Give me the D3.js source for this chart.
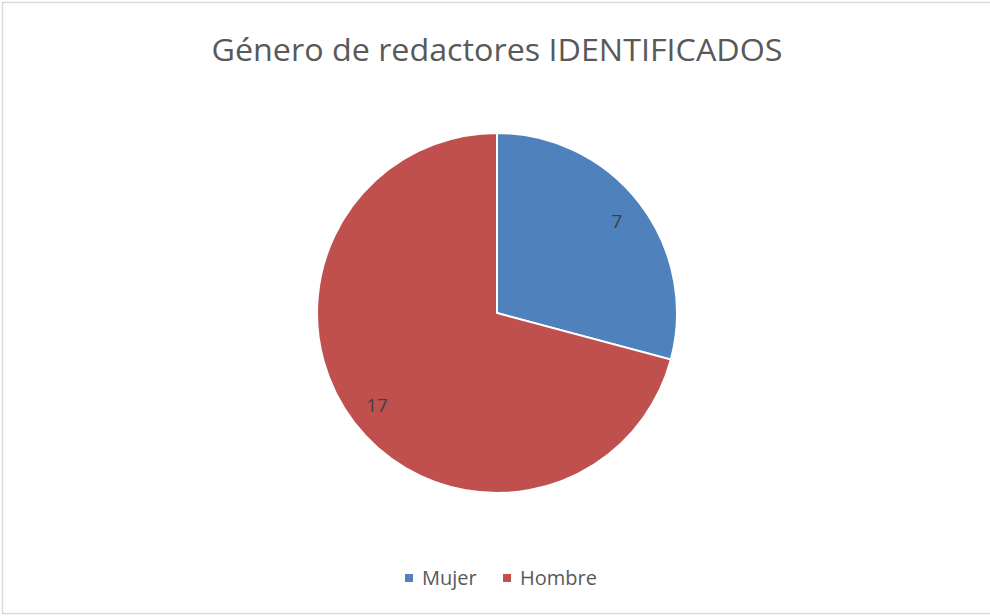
<!DOCTYPE html>
<html>
<head>
<meta charset="utf-8">
<script src="https://cdn.jsdelivr.net/npm/d3@7"></script>
<style>
  body { margin: 0; background: #fff; }
  svg { display: block; font-family: "Open Sans", "Noto Sans", sans-serif; }
</style>
</head>
<body>
<svg id="chart"></svg>
<script>
const categories = ['Mujer', 'Hombre'];
const values = [7, 17];
const colors = ['#4F81BD', '#C0504D'];
const title = 'Género de redactores IDENTIFICADOS';

const width = 990;
const height = 616;
const cx = 497, cy = 313;
const radius = 180;

const svg = d3.select('#chart')
    .attr('width', width)
    .attr('height', height);

// chart frame
svg.append('rect')
    .attr('x', 2.5)
    .attr('y', 2.5)
    .attr('width', width)
    .attr('height', 611)
    .attr('fill', 'white')
    .attr('stroke', '#d9d9d9')
    .attr('stroke-width', 1.5);

svg.append('text')
    .attr('x', cx)
    .attr('y', 61)
    .attr('text-anchor', 'middle')
    .attr('font-size', 31)
    .attr('textLength', 571)
    .attr('lengthAdjust', 'spacingAndGlyphs')
    .attr('fill', '#595959')
    .text(title);

const pie = d3.pie().sort(null).value(d => d[1]);
const arc = d3.arc().innerRadius(0).outerRadius(radius);
const labelArc = d3.arc().innerRadius(radius * 0.84).outerRadius(radius * 0.84);

const data = categories.map((c, i) => [c, values[i], colors[i]]);

const g = svg.append('g').attr('transform', `translate(${cx},${cy})`);

const slices = g.selectAll('.arc')
    .data(pie(data))
    .enter().append('g')
    .attr('class', 'arc');

slices.append('path')
    .attr('d', arc)
    .attr('fill', d => d.data[2])
    .attr('stroke', 'white')
    .attr('stroke-width', 2);

slices.append('text')
    .attr('transform', d => `translate(${labelArc.centroid(d)})`)
    .attr('text-anchor', 'middle')
    .attr('dy', '0.35em')
    .attr('font-size', 19)
    .attr('fill', '#404040')
    .text(d => d.data[1]);

// legend
const legendX = [405, 503];
const legend = svg.append('g');
categories.forEach((c, i) => {
    legend.append('rect')
        .attr('x', legendX[i])
        .attr('y', 574)
        .attr('width', 8)
        .attr('height', 8)
        .attr('fill', colors[i]);
    legend.append('text')
        .attr('x', legendX[i] + 17)
        .attr('y', 585)
        .attr('font-size', 20)
        .attr('fill', '#595959')
        .text(c);
});
</script>
</body>
</html>
